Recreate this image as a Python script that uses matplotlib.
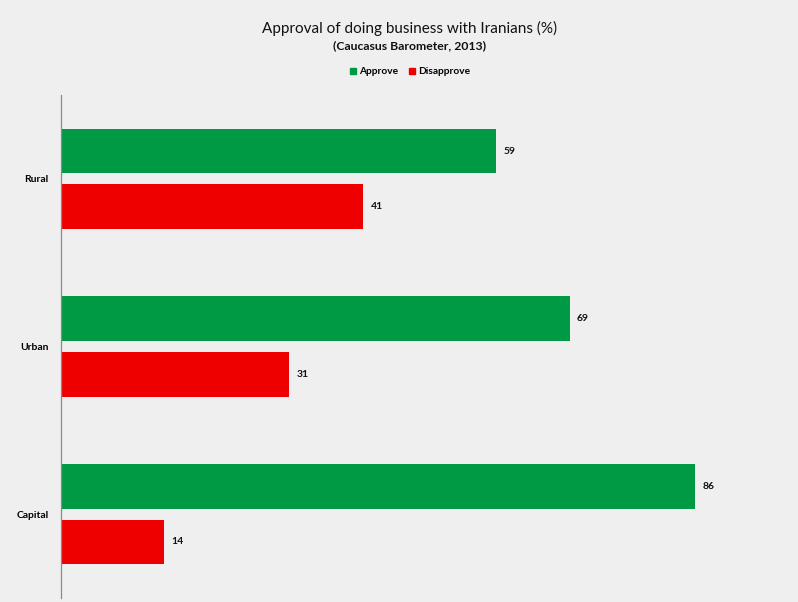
import numpy as np
import matplotlib
matplotlib.use("Agg")
import matplotlib.pyplot as plt
from matplotlib.patches import Patch

categories = ["Capital", "Urban", "Rural"]
approve = [86, 69, 59]
disapprove = [14, 31, 41]

BG = "#efefef"
GREEN = "#009a44"
RED = "#ee0000"
FONT = ["Lato", "DejaVu Sans"]
plt.rcParams["font.family"] = FONT

fig = plt.figure(figsize=(7.98, 6.02), dpi=100, facecolor=BG)
ax = fig.add_axes([61 / 798, 4 / 602, 737 / 798, 503 / 602], facecolor=BG)

y = np.arange(len(categories))
h = 0.267
off = 0.166
ax.barh(y + off, approve, height=h, color=GREEN, label="Approve")
ax.barh(y - off, disapprove, height=h, color=RED, label="Disapprove")

for yi, a, d in zip(y, approve, disapprove):
    ax.text(a + 1.0, yi + off, str(a), va="center", ha="left",
            fontsize=7.5, fontweight="bold", color="#111111")
    ax.text(d + 1.0, yi - off, str(d), va="center", ha="left",
            fontsize=7.5, fontweight="bold", color="#111111")

ax.set_xlim(0, 100)
ax.set_ylim(-0.5, 2.5)
ax.set_yticks(y)
ax.set_yticklabels(categories, fontsize=7.5, fontweight="bold")
ax.tick_params(axis="y", length=0, pad=9)
ax.set_xticks([])
for s in ["top", "right", "bottom"]:
    ax.spines[s].set_visible(False)
ax.spines["left"].set_color("#8a8a8a")
ax.spines["left"].set_linewidth(0.9)

fig.text(410 / 798, 1 - 28 / 602, "Approval of doing business with Iranians (%)",
         ha="center", va="center", fontsize=11, color="#111111")
fig.text(410 / 798, 1 - 46 / 602, "(Caucasus Barometer, 2013)",
         ha="center", va="center", fontsize=8.8, fontweight="bold", color="#111111")

handles = [Patch(color=GREEN, label="Approve"), Patch(color=RED, label="Disapprove")]
leg = fig.legend(handles=handles, loc="center", bbox_to_anchor=(410 / 798, 1 - 72 / 602),
                 ncol=2, frameon=False, handlelength=0.6, handleheight=0.6,
                 handletextpad=0.3, columnspacing=1.0,
                 prop={"size": 7.3, "weight": "bold"})

fig.savefig("out.png", dpi=100, facecolor=BG)
